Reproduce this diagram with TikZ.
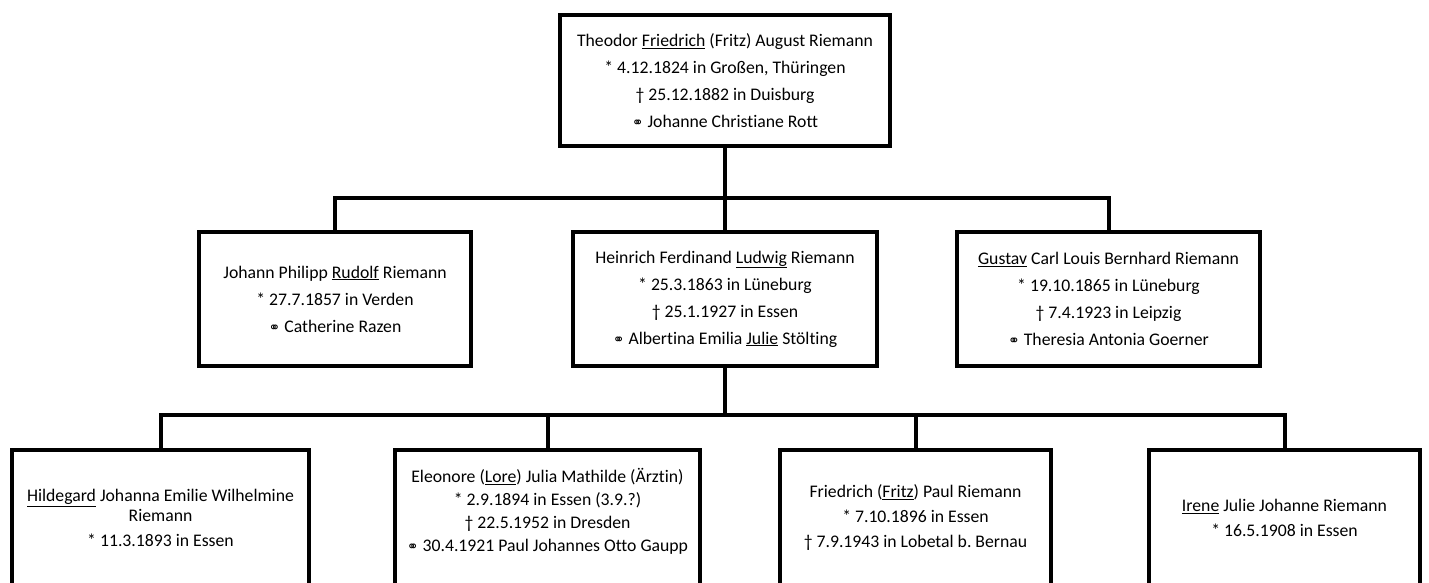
\documentclass[tikz,border=0pt]{standalone}
\usepackage{fontspec}
\setmainfont[Ligatures=NoCommon]{Carlito}
\newfontfamily\dejavu{DejaVu Sans}
\newcommand{\marr}{{\dejavu\fontsize{14}{14}\selectfont ⚭}}
\begin{document}
\begin{tikzpicture}[x=1pt,y=-1pt,
  person/.style={draw=black, line width=4pt, fill=white, align=center, inner sep=0pt,
    font=\fontsize{17.7}{27}\selectfont},
  link/.style={draw=black, line width=4pt}]
\useasboundingbox (0,0) rectangle (1429,583);
\clip (0,0) rectangle (1429,583);
% generation 1
\node[person, minimum width=330pt, minimum height=131pt] (top) at (725,80.5)
  {Theodor \underline{Friedrich} (Fritz) August Riemann\\
   * 4.12.1824 in Großen, Thüringen\\
   † 25.12.1882 in Duisburg\\
   \marr\ Johanne Christiane Rott};
% generation 2
\node[person, minimum width=272pt, minimum height=134pt] (r1) at (335,299)
  {Johann Philipp \underline{Rudolf} Riemann\\
   * 27.7.1857 in Verden\\
   \marr\ Catherine Razen};
\node[person, minimum width=304pt, minimum height=134pt] (r2) at (725,299)
  {Heinrich Ferdinand \underline{Ludwig} Riemann\\
   * 25.3.1863 in Lüneburg\\
   † 25.1.1927 in Essen\\
   \marr\ Albertina Emilia \underline{Julie} Stölting};
\node[person, minimum width=303pt, minimum height=134pt] (r3) at (1108.5,299)
  {\underline{Gustav} Carl Louis Bernhard Riemann\\
   * 19.10.1865 in Lüneburg\\
   † 7.4.1923 in Leipzig\\
   \marr\ Theresia Antonia Goerner};
% generation 3
\node[person, minimum width=297pt, minimum height=136pt, font=\fontsize{17.7}{25}\selectfont] (c1) at (160.5,518)
  {\underline{Hildegard} Johanna Emilie Wilhelmine\\[-5pt]
   Riemann\\
   * 11.3.1893 in Essen};
\node[person, minimum width=305pt, minimum height=136pt, text depth=16pt, font=\fontsize{17.7}{23}\selectfont] (c2) at (547.5,518)
  {Eleonore (\underline{Lore}) Julia Mathilde (Ärztin)\\
   * 2.9.1894 in Essen (3.9.?)\\
   † 22.5.1952 in Dresden\\
   \marr\ 30.4.1921 Paul Johannes Otto Gaupp};
\node[person, minimum width=271pt, minimum height=136pt, font=\fontsize{17.7}{25}\selectfont] (c3) at (915.5,518)
  {Friedrich (\underline{Fritz}) Paul Riemann\\
   * 7.10.1896 in Essen\\
   † 7.9.1943 in Lobetal b.\ Bernau};
\node[person, minimum width=271pt, minimum height=136pt, font=\fontsize{17.7}{25}\selectfont] (c4) at (1284.5,518)
  {\underline{Irene} Julie Johanne Riemann\\
   * 16.5.1908 in Essen};
% connectors
\coordinate (j1) at (725,198);
\coordinate (j2) at (725,415);
\draw[link] (top.south) -- (j1);
\draw[link] (r1.north) |- (j1) -| (r3.north);
\draw[link] (j1) -- (r2.north);
\draw[link] (r2.south) -- (j2);
\draw[link] (c1.north) |- (j2) -| (c4.north);
\draw[link] (c2.north) |- (j2);
\draw[link] (c3.north) |- (j2);
\end{tikzpicture}
\end{document}
